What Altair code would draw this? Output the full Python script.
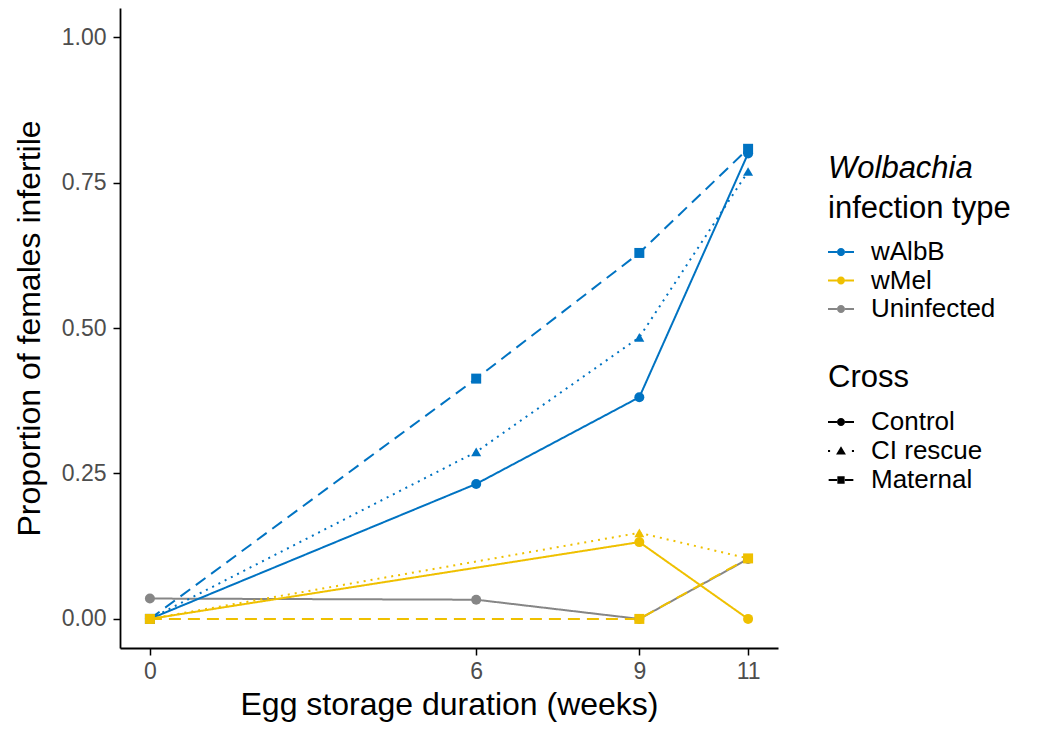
import altair as alt
import pandas as pd

# ---- data ----
weeks = [0, 6, 9, 11]
walbb_control = [0.0, 0.232, 0.381, 0.800]
walbb_ci_rescue = [0.0, 0.287, 0.484, 0.769]
walbb_maternal = [0.0, 0.413, 0.629, 0.808]
wmel_weeks = [0, 9, 11]
wmel_control = [0.0, 0.132, 0.0]
wmel_ci_rescue = [0.0, 0.148, 0.104]
wmel_maternal = [0.0, 0.0, 0.104]
uninfected_control = [0.035, 0.033, 0.0, 0.103]

infection_types = ["wAlbB", "wMel", "Uninfected"]
crosses = ["Control", "CI rescue", "Maternal"]
palette = ["#0073C2", "#EFC000", "#868686"]
x_ticks = [0, 6, 9, 11]
y_ticks = [0, 0.25, 0.5, 0.75, 1.0]

# drawing order: uninfected beneath, wMel on top
series = [
    ("Uninfected", "Control", weeks, uninfected_control),
    ("wAlbB", "Control", weeks, walbb_control),
    ("wAlbB", "CI rescue", weeks, walbb_ci_rescue),
    ("wAlbB", "Maternal", weeks, walbb_maternal),
    ("wMel", "Control", wmel_weeks, wmel_control),
    ("wMel", "CI rescue", wmel_weeks, wmel_ci_rescue),
    ("wMel", "Maternal", wmel_weeks, wmel_maternal),
]
rows = []
for inf, cr, xs, ys in series:
    for xv, yv in zip(xs, ys):
        rows.append({"week": xv, "prop": yv, "infection": inf, "cross": cr})
df = pd.DataFrame(rows)

FONT = "Liberation Sans"

# legend symbols (line stub + marker), unit coordinates
CIRCLE_SOLID = ("M-1,-0.07H-0.31V0.07H-1Z M0.31,-0.07H1V0.07H0.31Z "
                "M0.31,0A0.31,0.31 0 1,1 -0.31,0A0.31,0.31 0 1,1 0.31,0Z")
TRI_DOTTED = ("M-1,-0.08H-0.84V0.08H-1Z M0.84,-0.08H1V0.08H0.84Z "
              "M0,-0.36L0.38,0.26H-0.38Z")
SQ_DASHED = ("M-0.95,-0.07H-0.3V0.07H-0.95Z M0.3,-0.07H0.95V0.07H0.3Z "
             "M-0.28,-0.28H0.28V0.28H-0.28Z")

x_enc = alt.X("week:Q",
              scale=alt.Scale(domain=[-0.55, 11.55], nice=False, zero=False),
              axis=alt.Axis(values=x_ticks, format="d", title="Egg storage duration (weeks)"))
y_enc = alt.Y("prop:Q",
              scale=alt.Scale(domain=[-0.05, 1.05], nice=False, zero=False),
              axis=alt.Axis(values=y_ticks, format=".2f", title="Proportion of females infertile"))
color_scale = alt.Scale(domain=infection_types, range=palette)

lines = alt.Chart(df).mark_line(strokeWidth=2).encode(
    x=x_enc, y=y_enc,
    color=alt.Color("infection:N", scale=color_scale, legend=None),
    strokeDash=alt.StrokeDash("cross:N",
                              scale=alt.Scale(domain=crosses, range=[[1, 0], [2, 5], [12, 7]]),
                              legend=None),
)

points = alt.Chart(df).mark_point(filled=True, size=100, opacity=1).encode(
    x=x_enc, y=y_enc,
    color=alt.Color("infection:N", scale=color_scale, legend=None),
    shape=alt.Shape("cross:N",
                    scale=alt.Scale(domain=crosses, range=["circle", "triangle-up", "square"]),
                    legend=None),
)

legend_src = alt.Chart(df).mark_point(filled=True, size=1, opacity=0).encode(
    x=x_enc, y=y_enc,
    color=alt.Color("infection:N", scale=color_scale,
                    legend=alt.Legend(orient="none", legendX=708, legendY=148,
                                      title=[" ", "infection type"], titleLimit=400,
                                      symbolType=CIRCLE_SOLID, symbolSize=676,
                                      symbolStrokeWidth=0, symbolOpacity=1,
                                      titlePadding=14, rowPadding=2.5, labelOffset=17)),
    shape=alt.Shape("cross:N",
                    scale=alt.Scale(domain=crosses, range=[CIRCLE_SOLID, TRI_DOTTED, SQ_DASHED]),
                    legend=alt.Legend(orient="none", legendX=708, legendY=355,
                                      title="Cross", symbolSize=676, titleLimit=400,
                                      symbolFillColor="black", symbolStrokeWidth=0,
                                      symbolOpacity=1, titlePadding=15,
                                      rowPadding=3, labelOffset=17)),
)

title_df = pd.DataFrame({"t": ["Wolbachia"]})
wolb_title = alt.Chart(title_df).mark_text(
    font=FONT, fontSize=31, fontStyle="italic", align="left", baseline="alphabetic", color="black"
).encode(text="t:N", x=alt.value(708), y=alt.value(170))

chart = alt.layer(lines, points, legend_src, wolb_title).resolve_scale(
    shape="independent", color="independent"
).properties(
    width=658, height=640,
    autosize=alt.AutoSizeParams(type="none"),
    padding={"left": 112, "top": 0, "right": 259, "bottom": 80},
).configure_view(stroke=None).configure_axis(
    grid=False,
    domainColor="black", domainWidth=1.8,
    tickColor="black", tickWidth=1.5, tickSize=7,
    labelFont=FONT, labelFontSize=23, labelColor="#4D4D4D",
    titleFont=FONT, titleFontSize=32, titleColor="black", titleFontWeight="normal",
).configure_axisX(labelPadding=5, titlePadding=6).configure_axisY(
    labelPadding=7, titlePadding=15
).configure_legend(
    titleFont=FONT, titleFontSize=31, titleFontWeight="normal", titleColor="black",
    titleLineHeight=38, labelFont=FONT, labelFontSize=26, labelColor="black",
    padding=0,
)

chart.save("out.html", embed_options={"renderer": "svg", "actions": False})
